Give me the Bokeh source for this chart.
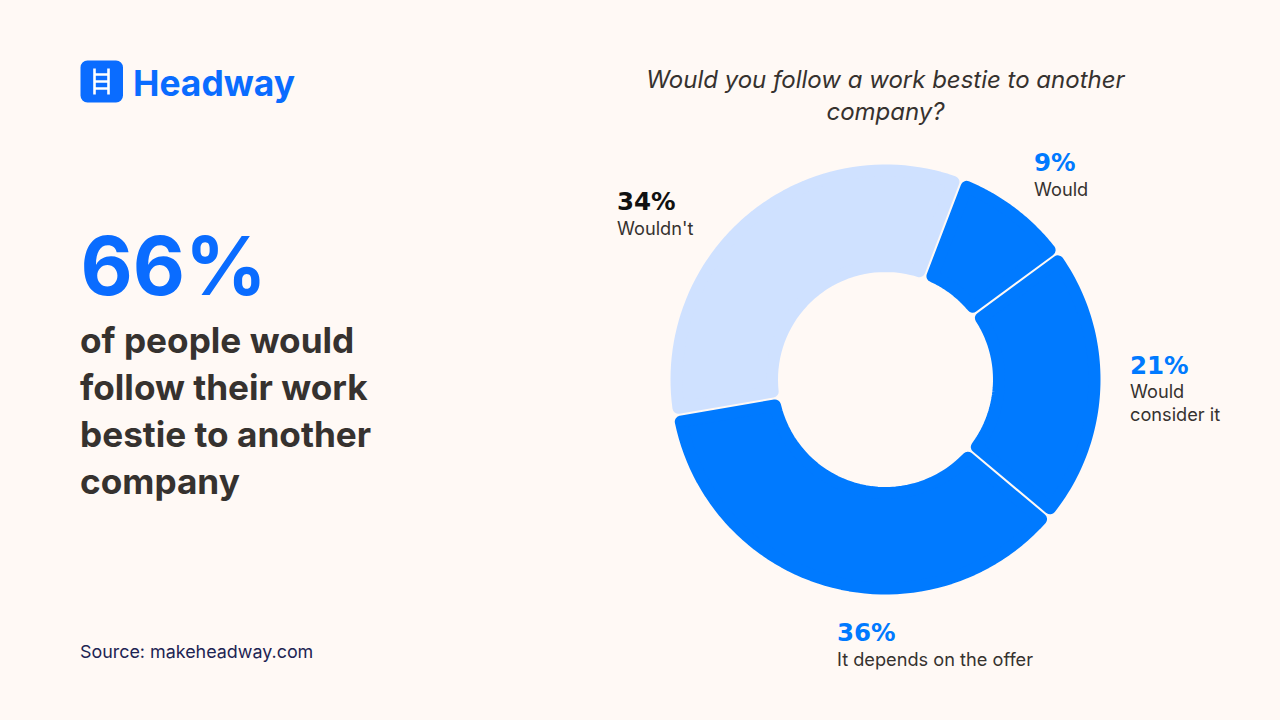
import numpy as np
from bokeh.plotting import figure
from bokeh.embed import file_html
from bokeh.resources import INLINE
from bokeh.core.properties import value

# --- data ---
categories = ["Would", "Would consider it", "It depends on the offer", "Wouldn't"]
percent_labels = ["9%", "21%", "36%", "34%"]
shares = [9.1, 21.2, 36.2, 33.5]
colors = ["#007AFF", "#007AFF", "#007AFF", "#CFE1FF"]
label_colors = ["#007AFF", "#007AFF", "#007AFF", "#111111"]
start_angle = 20.9
BG = "#FFF9F5"
INK = "#36322F"

p = figure(width=1272, height=712, output_backend="svg", toolbar_location=None,
           x_range=(0, 1272), y_range=(712, 0), min_border=0, outline_line_color=None,
           background_fill_color=BG, border_fill_color=BG)
p.axis.visible = False
p.grid.visible = False

# --- donut ---
cx, cy, R, r = 885.0, 379.0, 215.0, 107.5
corner = 6.0
gap = 1.0
def ring_slice(a0, a1):
    d = corner + gap
    ro, ri = R - corner, r + corner
    t_out = np.radians(np.linspace(a0 + np.degrees(d / ro), a1 - np.degrees(d / ro), 60))
    t_in = np.radians(np.linspace(a1 - np.degrees(d / ri), a0 + np.degrees(d / ri), 40))
    xs = np.r_[cx + ro * np.sin(t_out), cx + ri * np.sin(t_in)]
    ys = np.r_[cy - ro * np.cos(t_out), cy - ri * np.cos(t_in)]
    return xs.tolist(), ys.tolist()

edges = start_angle + np.cumsum([0] + shares) * 3.6
for a0, a1, c in zip(edges[:-1], edges[1:], colors):
    xs, ys = ring_slice(a0, a1)
    p.patch(xs, ys, fill_color=c, line_color=c, line_width=2 * corner, line_join="round")

def put(x, y, s, font, size, color, style="normal", align="left"):
    p.text([x], [y], text=[s], text_font=value(font), text_font_size=f"{size}px",
           text_font_style=style, text_color=color, text_align=align, text_baseline="middle")

# --- slice labels ---
pct_pos = [(1033.5, 161.5), (1129.5, 364.5), (836.5, 631.5), (616.5, 200.5)]
name_pos = [[(1033.5, 188, "Would")],
            [(1129.5, 390, "Would"), (1129.5, 413, "consider it")],
            [(836.5, 658, "It depends on the offer")],
            [(616.5, 227, "Wouldn't")]]
for (x, y), txt, col, names in zip(pct_pos, percent_labels, label_colors, name_pos):
    put(x, y, txt, "DejaVu Sans", 24.5, col, "bold")
    for nx, ny, s in names:
        put(nx, ny, s, "Inter", 18.2, INK)

# --- title ---
put(885, 78.5, "Would you follow a work bestie to another", "Inter", 24, INK, "italic", "center")
put(885, 110.5, "company?", "Inter", 24, INK, "italic", "center")

# --- left column ---
put(80, 265, "66%", "Inter", 80.5, "#0A6CFF", "bold")
for y, s in zip([339.5, 386.5, 433.5, 480.5], ["of people would", "follow their work", "bestie to another", "company"]):
    put(79.5, y, s, "Inter", 35.2, INK, "bold")
put(79.5, 651, "Source: makeheadway.com", "Inter", 17.9, "#1D2453")

# --- logo ---
p.quad(left=[87], right=[115.5], top=[67], bottom=[95], fill_color="#0A6CFF",
       line_color="#0A6CFF", line_width=14, line_join="round")
p.segment([94, 108, 94, 94, 94], [68, 68, 74, 81, 88], [94, 108, 108, 108, 108], [94, 94, 74, 81, 88],
          line_color="white", line_width=2.6)
put(132.5, 82.5, "Headway", "Inter", 35.4, "#0A6CFF", "bold")

html = file_html(p, INLINE)
html = html.replace("<head>", "<head><style>html,body{background:#FFF9F5}</style>", 1)
open("out.html", "w").write(html)
